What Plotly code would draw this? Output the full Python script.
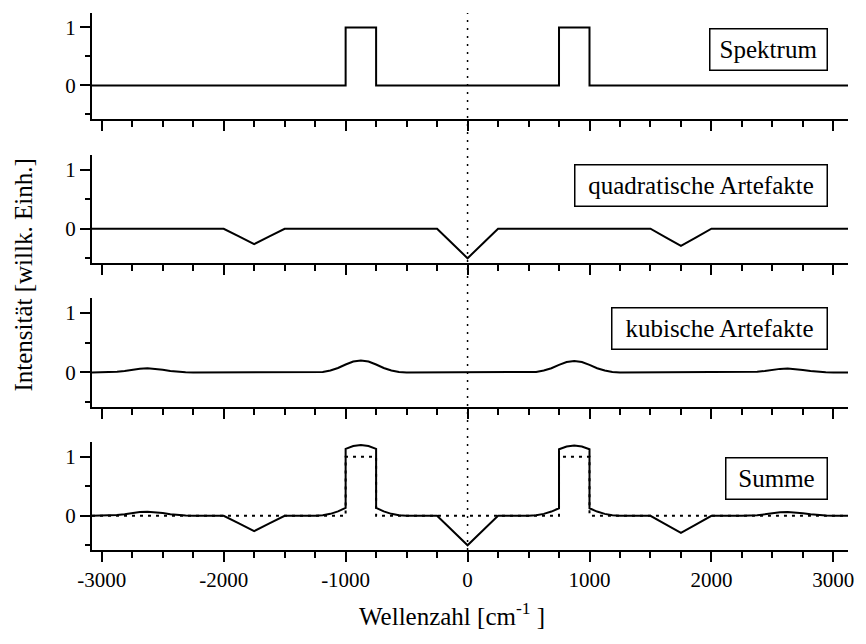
import plotly.graph_objects as go

# Wavenumber grid (cm^-1); repeated values mark the vertical edges of the bands
wavenumber = [
    -3080,
    -3000, -2937.5, -2875, -2812.5, -2750, -2687.5, -2625, -2562.5, -2500, -2437.5, -2375, -2312.5, -2250,
    -2000, -1875, -1750, -1625, -1500,
    -1250, -1187.5, -1125, -1062.5, -1000, -1000, -937.5, -875, -812.5, -750, -750, -687.5, -625, -562.5, -500,
    -250, -125, 0, 125, 250,
    500, 562.5, 625, 687.5, 750, 750, 812.5, 875, 937.5, 1000, 1000, 1062.5, 1125, 1187.5, 1250,
    1500, 1625, 1750, 1875, 2000,
    2250, 2312.5, 2375, 2437.5, 2500, 2562.5, 2625, 2687.5, 2750, 2812.5, 2875, 2937.5, 3000,
    3120,
]

spektrum = [
    0,
    0, 0, 0, 0, 0, 0, 0, 0, 0, 0, 0, 0, 0,
    0, 0, 0, 0, 0,
    0, 0, 0, 0, 0, 1, 1, 1, 1, 1, 0, 0, 0, 0, 0,
    0, 0, 0, 0, 0,
    0, 0, 0, 0, 0, 1, 1, 1, 1, 1, 0, 0, 0, 0, 0,
    0, 0, 0, 0, 0,
    0, 0, 0, 0, 0, 0, 0, 0, 0, 0, 0, 0, 0,
    0,
]

quadratisch = [
    0,
    0, 0, 0, 0, 0, 0, 0, 0, 0, 0, 0, 0, 0,
    0, -0.13, -0.26, -0.13, 0,
    0, 0, 0, 0, 0, 0, 0, 0, 0, 0, 0, 0, 0, 0, 0,
    0, -0.25, -0.5, -0.25, 0,
    0, 0, 0, 0, 0, 0, 0, 0, 0, 0, 0, 0, 0, 0, 0,
    0, -0.145, -0.29, -0.145, 0,
    0, 0, 0, 0, 0, 0, 0, 0, 0, 0, 0, 0, 0,
    0,
]

kubisch = [
    0,
    0, 0.003, 0.012, 0.026, 0.047, 0.064, 0.07, 0.064, 0.047, 0.026, 0.012, 0.003, 0,
    0, 0, 0, 0, 0,
    0, 0.008, 0.033, 0.075, 0.133, 0.133, 0.183, 0.2, 0.183, 0.133, 0.133, 0.075, 0.033, 0.008, 0,
    0, 0, 0, 0, 0,
    0, 0.008, 0.032, 0.071, 0.127, 0.127, 0.174, 0.19, 0.174, 0.127, 0.127, 0.071, 0.032, 0.008, 0,
    0, 0, 0, 0, 0,
    0, 0.003, 0.011, 0.024, 0.043, 0.06, 0.065, 0.06, 0.043, 0.024, 0.011, 0.003, 0,
    0,
]

summe = [s + q + k for s, q, k in zip(spektrum, quadratisch, kubisch)]

panel_labels = ["Spektrum", "quadratische Artefakte", "kubische Artefakte", "Summe"]
x_ticks = [-3000, -2000, -1000, 0, 1000, 2000, 3000]
y_ticks = [0, 1]

SERIF = "Liberation Serif"
INK = "black"

# panel domains (top to bottom), label box centres and inner box widths
domains = [[0.8026, 1.0], [0.5345, 0.7356], [0.2663, 0.4693], [0.0, 0.2011]]
label_y = [0.932, 0.679, 0.4125, 0.133]
label_w = [110, 245, 208, 94]

fig = go.Figure()

curves = [spektrum, quadratisch, kubisch, summe]
for i, ys in enumerate(curves, start=1):
    if i == 4:
        # reference spectrum underneath the sum
        fig.add_trace(go.Scatter(
            x=wavenumber, y=spektrum, mode="lines",
            line=dict(color=INK, width=2, dash="3px,5px"),
            xaxis="x4", yaxis="y4", showlegend=False, hoverinfo="skip"))
    fig.add_trace(go.Scatter(
        x=wavenumber, y=ys, mode="lines",
        line=dict(color=INK, width=2),
        xaxis=f"x{i}", yaxis=f"y{i}", showlegend=False))

layout = dict(
    width=866, height=644,
    margin=dict(l=92, r=12, t=13, b=94),
    paper_bgcolor="white", plot_bgcolor="white",
    font=dict(family=SERIF, size=21, color=INK),
)

for i in range(1, 5):
    xa = dict(
        domain=[0, 1], range=[-3080, 3120], anchor=f"y{i}",
        showline=True, linecolor=INK, linewidth=2,
        showgrid=False, zeroline=False,
        ticks="outside", ticklen=10, tickwidth=2, tickcolor=INK,
        tickvals=x_ticks, ticktext=[str(v) for v in x_ticks],
        showticklabels=(i == 4),
        tickfont=dict(family=SERIF, size=21, color=INK),
        minor=dict(dtick=250, tick0=0, ticks="outside", ticklen=6,
                   tickwidth=2, tickcolor=INK, showgrid=False),
    )
    if i > 1:
        xa["matches"] = "x"
    ya = dict(
        domain=domains[i - 1], range=[-0.58, 1.25], anchor=f"x{i}",
        showline=True, linecolor=INK, linewidth=2,
        showgrid=False, zeroline=False,
        ticks="outside", ticklen=10, tickwidth=2, tickcolor=INK,
        tickvals=y_ticks, ticktext=["0", "1"],
        tickfont=dict(family=SERIF, size=21, color=INK),
        minor=dict(dtick=0.5, tick0=0, ticks="outside", ticklen=5,
                   tickwidth=2, tickcolor=INK, showgrid=False),
    )
    key = "" if i == 1 else str(i)
    layout[f"xaxis{key}"] = xa
    layout[f"yaxis{key}"] = ya

annotations = []
for lab, yy, ww in zip(panel_labels, label_y, label_w):
    annotations.append(dict(
        text=lab, xref="paper", yref="paper", x=0.974, y=yy,
        xanchor="right", yanchor="middle", showarrow=False,
        width=ww, height=34, align="center", valign="middle",
        font=dict(family=SERIF, size=25, color=INK),
        bordercolor=INK, borderwidth=1.5, borderpad=3, bgcolor="white"))

annotations.append(dict(
    text="Wellenzahl [cm<sup>-1</sup> ]", xref="paper", yref="paper",
    x=0.476, y=-0.119, xanchor="center", yanchor="middle", showarrow=False,
    font=dict(family=SERIF, size=25, color=INK)))
annotations.append(dict(
    text="Intensität [willk. Einh.]", xref="paper", yref="paper",
    x=-0.0906, y=0.512, xanchor="center", yanchor="middle", showarrow=False,
    textangle=-90, font=dict(family=SERIF, size=25, color=INK)))

layout["annotations"] = annotations
layout["shapes"] = [dict(
    type="line", xref="x", yref="paper", x0=0, x1=0, y0=0, y1=1,
    line=dict(color=INK, width=1.5, dash="2px,6px"), layer="below")]

fig.update_layout(**layout)
fig.write_html("out.html")
